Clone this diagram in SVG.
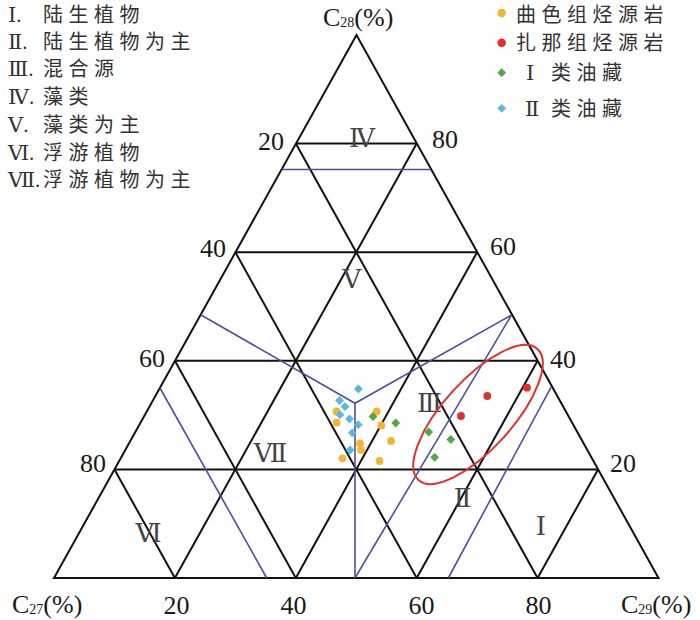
<svg xmlns="http://www.w3.org/2000/svg" width="700" height="620" viewBox="0 0 700 620">
<style>
.grid{stroke:#111;stroke-width:2;fill:none;stroke-linejoin:miter}
.bl{stroke:#4b4fa3;stroke-width:1.6;fill:none}
.ax{font-family:"Liberation Serif","DejaVu Serif",serif;font-size:26px;fill:#1a1a1a}
.rn{font-family:"Liberation Serif","DejaVu Serif","Noto Sans CJK SC",serif;font-size:26px;fill:#444}
.lg{font-family:"Noto Sans CJK SC",sans-serif;font-size:20px;fill:#333;letter-spacing:5.5px}
.lgr{font-family:"Liberation Serif","DejaVu Serif","Noto Sans CJK SC",serif;font-size:21px;fill:#333;letter-spacing:0}
.or{fill:#f6b531}.rd{fill:#e3302d}.gr{fill:#4fa845}.bu{fill:#5bb6e6}
</style>
<defs>
<path id="dm" d="M0,-4.4 L4.4,0 L0,4.4 L-4.4,0Z"/>
</defs>
<g id="grid">
<polygon class="grid" points="356.5,35 54,578 658.5,578"/>
<line class="grid" x1="114.45" y1="469.4" x2="598.05" y2="469.4"/>
<line class="grid" x1="174.9" y1="360.8" x2="537.6" y2="360.8"/>
<line class="grid" x1="235.35" y1="252.2" x2="477.15" y2="252.2"/>
<line class="grid" x1="295.8" y1="143.6" x2="416.7" y2="143.6"/>
<line class="grid" x1="174.9" y1="578" x2="114.45" y2="469.4"/>
<line class="grid" x1="295.8" y1="578" x2="174.9" y2="360.8"/>
<line class="grid" x1="416.7" y1="578" x2="235.35" y2="252.2"/>
<line class="grid" x1="537.6" y1="578" x2="295.8" y2="143.6"/>
<line class="grid" x1="174.9" y1="578" x2="416.7" y2="143.6"/>
<line class="grid" x1="295.8" y1="578" x2="477.15" y2="252.2"/>
<line class="grid" x1="416.7" y1="578" x2="537.6" y2="360.8"/>
<line class="grid" x1="537.6" y1="578" x2="598.05" y2="469.4"/>
</g>
<g id="boundaries">
<line class="bl" x1="282" y1="169.5" x2="431" y2="169.5"/>
<polyline class="bl" points="201,315 355,403.3 511.5,315"/>
<line class="bl" x1="355" y1="403.3" x2="355" y2="578"/>
<line class="bl" x1="355" y1="578" x2="511.5" y2="315"/>
<line class="bl" x1="448.3" y1="578" x2="551.5" y2="386.4"/>
<line class="bl" x1="160" y1="388" x2="266.7" y2="578"/>
</g>
<g id="axis-labels">
<text class="ax" x="323" y="26">C<tspan font-size="14" dy="1">28</tspan><tspan dy="-1">(%)</tspan></text>
<text class="ax" x="12" y="613">C<tspan font-size="14" dy="1">27</tspan><tspan dy="-1">(%)</tspan></text>
<text class="ax" x="621" y="613">C<tspan font-size="14" dy="1">29</tspan><tspan dy="-1">(%)</tspan></text>
<text class="ax" x="176.5" y="614" text-anchor="middle">20</text>
<text class="ax" x="293.5" y="614" text-anchor="middle">40</text>
<text class="ax" x="421.5" y="614" text-anchor="middle">60</text>
<text class="ax" x="538.5" y="614" text-anchor="middle">80</text>
<text class="ax" x="258" y="150">20</text>
<text class="ax" x="200" y="257">40</text>
<text class="ax" x="139" y="367">60</text>
<text class="ax" x="80" y="472">80</text>
<text class="ax" x="432" y="148">80</text>
<text class="ax" x="490" y="255">60</text>
<text class="ax" x="550" y="368">40</text>
<text class="ax" x="610" y="472">20</text>
</g>
<g id="region-labels">
<text class="rn" x="362" y="147" text-anchor="middle">Ⅳ</text>
<text class="rn" x="352" y="288" text-anchor="middle">Ⅴ</text>
<text class="rn" x="429.5" y="412" text-anchor="middle">Ⅲ</text>
<text class="rn" x="270.5" y="462" text-anchor="middle">Ⅶ</text>
<text class="rn" x="148.5" y="542" text-anchor="middle">Ⅵ</text>
<text class="rn" x="462.5" y="507" text-anchor="middle">Ⅱ</text>
<text class="rn" x="541" y="535" text-anchor="middle">Ⅰ</text>
</g>
<g id="ellipse">
<ellipse cx="478" cy="414.5" rx="88.5" ry="34.4" transform="rotate(-47.8 478 414.5)" fill="none" stroke="#e3302d" stroke-width="2"/>
</g>
<g id="data-qu">
<circle class="or" cx="336.7" cy="422.5" r="3.9"/>
<circle class="or" cx="336.5" cy="411.5" r="3.9"/>
<circle class="or" cx="342.5" cy="458.3" r="3.9"/>
<circle class="or" cx="360" cy="443.3" r="3.9"/>
<circle class="or" cx="361" cy="450" r="3.9"/>
<circle class="or" cx="376.7" cy="411.5" r="3.9"/>
<circle class="or" cx="381.3" cy="425.5" r="3.9"/>
<circle class="or" cx="391" cy="441" r="3.9"/>
<circle class="or" cx="379.5" cy="461" r="3.9"/>
</g>
<g id="data-za">
<circle class="rd" cx="461" cy="416" r="3.9"/>
<circle class="rd" cx="487.3" cy="396" r="3.9"/>
<circle class="rd" cx="527" cy="387.7" r="3.9"/>
</g>
<g id="data-oil1">
<use href="#dm" class="gr" x="373" y="416.5"/>
<use href="#dm" class="gr" x="395.7" y="423"/>
<use href="#dm" class="gr" x="428.7" y="432"/>
<use href="#dm" class="gr" x="450.8" y="439.5"/>
<use href="#dm" class="gr" x="434.7" y="457.3"/>
</g>
<g id="data-oil2">
<use href="#dm" class="bu" x="358.3" y="389"/>
<use href="#dm" class="bu" x="339.5" y="400.5"/>
<use href="#dm" class="bu" x="345" y="406.7"/>
<use href="#dm" class="bu" x="340" y="414.7"/>
<use href="#dm" class="bu" x="349.5" y="419"/>
<use href="#dm" class="bu" x="358.3" y="424.7"/>
<use href="#dm" class="bu" x="352.3" y="432.8"/>
<use href="#dm" class="bu" x="350" y="450"/>
</g>
<g id="legend-left">
<text class="lg" y="21.5"><tspan class="lgr" x="8">Ⅰ.</tspan><tspan x="43">陆生植物</tspan></text>
<text class="lg" y="48.5"><tspan class="lgr" x="8">Ⅱ.</tspan><tspan x="43">陆生植物为主</tspan></text>
<text class="lg" y="76"><tspan class="lgr" x="8">Ⅲ.</tspan><tspan x="43">混合源</tspan></text>
<text class="lg" y="104"><tspan class="lgr" x="8">Ⅳ.</tspan><tspan x="43">藻类</tspan></text>
<text class="lg" y="132"><tspan class="lgr" x="8">Ⅴ.</tspan><tspan x="43">藻类为主</tspan></text>
<text class="lg" y="160"><tspan class="lgr" x="8">Ⅵ.</tspan><tspan x="43">浮游植物</tspan></text>
<text class="lg" y="187"><tspan class="lgr" x="8">Ⅶ.</tspan><tspan x="43">浮游植物为主</tspan></text>
</g>
<g id="legend-right">
<circle class="or" cx="501.7" cy="13" r="4.3"/>
<text class="lg" x="516" y="21.5">曲色组烃源岩</text>
<circle class="rd" cx="501.7" cy="42.7" r="4.3"/>
<text class="lg" x="516" y="50">扎那组烃源岩</text>
<use href="#dm" class="gr" x="501.7" y="72.7"/>
<text class="lg" y="80"><tspan class="lgr" x="526">Ⅰ</tspan><tspan x="541"> 类油藏</tspan></text>
<use href="#dm" class="bu" x="501.7" y="108.3"/>
<text class="lg" y="115.5"><tspan class="lgr" x="525">Ⅱ</tspan><tspan x="541"> 类油藏</tspan></text>
</g>
</svg>
